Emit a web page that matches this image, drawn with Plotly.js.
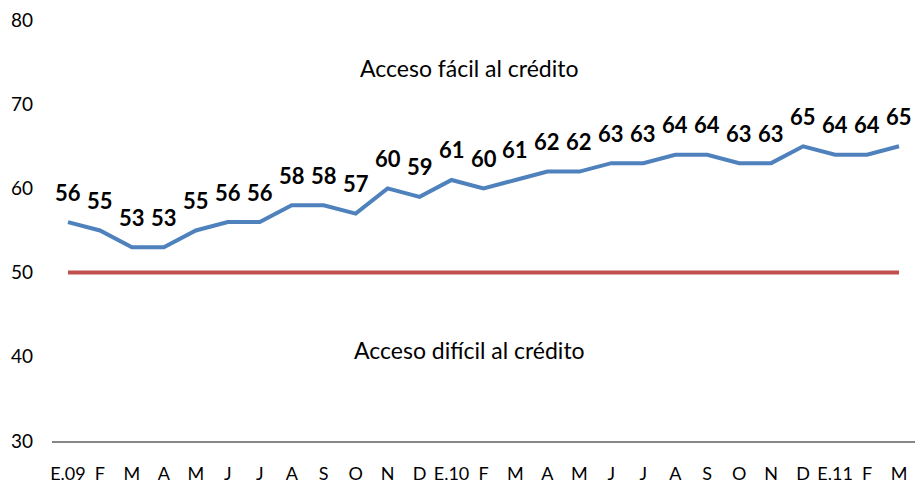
<!DOCTYPE html>
<html>
<head>
<meta charset="utf-8">
<script src="https://cdn.plot.ly/plotly-3.0.1.min.js"></script>
<style>html,body{margin:0;padding:0;background:#fff;}#chart{width:915px;height:487px;}</style>
</head>
<body>
<div id="chart"></div>
<script>
const months = ["E.09","F","M","A","M","J","J","A","S","O","N","D","E.10","F","M","A","M","J","J","A","S","O","N","D","E.11","F","M"];
const indexValues = [56,55,53,53,55,56,56,58,58,57,60,59,61,60,61,62,62,63,63,64,64,63,63,65,64,64,65];
const threshold = [50,50,50,50,50,50,50,50,50,50,50,50,50,50,50,50,50,50,50,50,50,50,50,50,50,50,50];
const yTicks = [30,40,50,60,70,80];
const xPos = months.map((m, i) => i);

const font = "Lato, 'Open Sans', sans-serif";

const traces = [
  {x: xPos, y: threshold, mode: 'lines', line: {color: '#C0504D', width: 4}, hoverinfo: 'skip'},
  {x: xPos, y: indexValues, mode: 'lines', line: {color: '#4F81BD', width: 4}, hoverinfo: 'skip'}
];

const annotations = indexValues.map((v, i) => ({
  x: i, y: v, xref: 'x', yref: 'y', text: String(v), showarrow: false,
  yshift: 30, font: {family: font, size: 22, color: '#000', weight: 'bold'}
}));
annotations.push({xref: 'paper', yref: 'paper', x: 0.484, y: 0.886, yanchor: 'middle', text: 'Acceso fácil al crédito', showarrow: false, font: {family: font, size: 23, color: '#000'}});
annotations.push({xref: 'paper', yref: 'paper', x: 0.484, y: 0.216, yanchor: 'middle', text: 'Acceso difícil al crédito', showarrow: false, font: {family: font, size: 23, color: '#000'}});

const layout = {
  width: 915, height: 487,
  margin: {l: 52, r: 0, t: 20, b: 46},
  paper_bgcolor: '#fff', plot_bgcolor: '#fff',
  showlegend: false,
  font: {family: font, size: 18, color: '#000'},
  xaxis: {
    range: [-0.5, 26.5], tickvals: xPos, ticktext: months,
    showgrid: false, zeroline: false, showline: true, linecolor: '#868686', linewidth: 2,
    ticks: '', ticklabelstandoff: 15, tickfont: {family: font, size: 18, color: '#000'}, fixedrange: true
  },
  yaxis: {
    range: [30, 80], tickvals: yTicks, showgrid: false, zeroline: false, showline: false,
    ticks: '', ticklabelstandoff: 18, tickfont: {family: font, size: 19, color: '#000'}, fixedrange: true
  },
  annotations: annotations
};

Plotly.newPlot('chart', traces, layout, {displayModeBar: false, staticPlot: true});
</script>
</body>
</html>
